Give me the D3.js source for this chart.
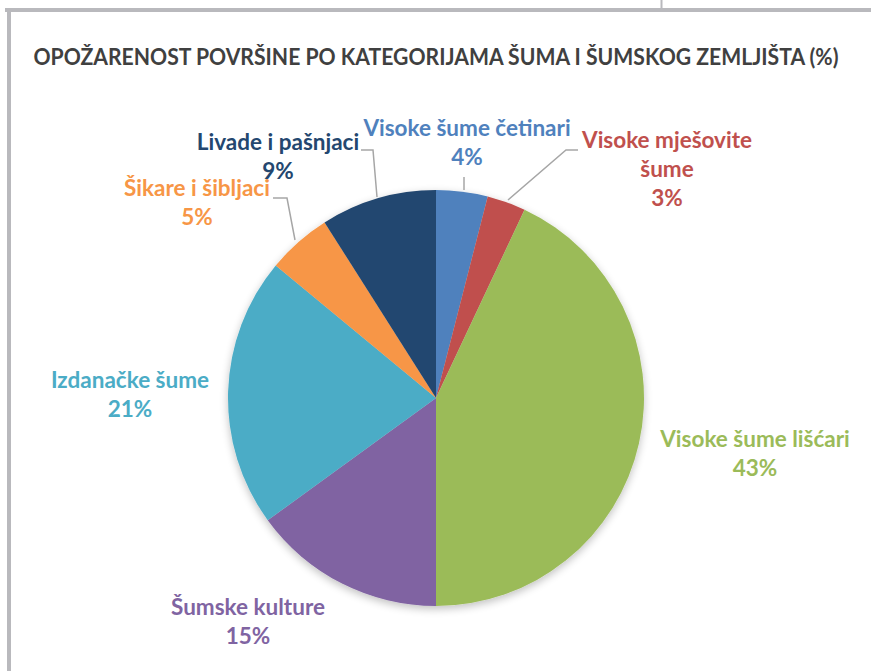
<!DOCTYPE html>
<html><head><meta charset="utf-8">
<script src="https://cdn.jsdelivr.net/npm/d3@7"></script>
<style>html,body{margin:0;padding:0;background:#fff;}svg{display:block;}</style>
</head><body>
<svg id="chart" width="871" height="671"></svg>
<script>
const title = "OPOŽARENOST POVRŠINE PO KATEGORIJAMA ŠUMA I ŠUMSKOG ZEMLJIŠTA (%)";
const categories = ["Visoke šume četinari","Visoke mješovite šume","Visoke šume lišćari","Šumske kulture","Izdanačke šume","Šikare i šibljaci","Livade i pašnjaci"];
const values = [4, 3, 43, 15, 21, 5, 9];
const colors = ["#4f81bd","#c0504d","#9bbb59","#8064a2","#4bacc6","#f79646","#24476f"];
const labelLines = [["Visoke šume četinari"],["Visoke mješovite","šume"],["Visoke šume lišćari"],["Šumske kulture"],["Izdanačke šume"],["Šikare i šibljaci"],["Livade i pašnjaci"]];

// layout (positions only)
const cx = 436, cy = 398, R = 208;
const labelPos = [[467,136],[667,148],[755,447],[248,615],[130,388],[197,196],[278,150]];
const lineH = 29;

const svg = d3.select("#chart");
const defs = svg.append("defs");
const f = defs.append("filter").attr("id","sh").attr("x","-20%").attr("y","-20%").attr("width","140%").attr("height","140%");
f.append("feGaussianBlur").attr("in","SourceAlpha").attr("stdDeviation",4);
f.append("feOffset").attr("dx",0).attr("dy",3).attr("result","b");
f.append("feComponentTransfer").append("feFuncA").attr("type","linear").attr("slope",0.25);
const m = f.append("feMerge"); m.append("feMergeNode"); m.append("feMergeNode").attr("in","SourceGraphic");

// frame
svg.append("line").attr("x1",5).attr("x2",871).attr("y1",10).attr("y2",10).attr("stroke","#b9b9bd").attr("stroke-width",4);
svg.append("line").attr("x1",9).attr("x2",9).attr("y1",8).attr("y2",671).attr("stroke","#b9b9bd").attr("stroke-width",4);
svg.append("line").attr("x1",661.5).attr("x2",661.5).attr("y1",0).attr("y2",9).attr("stroke","#b9b9bd").attr("stroke-width",2);

svg.append("text").attr("x",436).attr("y",65).attr("text-anchor","middle")
  .attr("font-family","Lato, 'Open Sans', sans-serif").attr("font-weight","bold").attr("font-size",23.5)
  .attr("fill","#404040").attr("textLength",805).attr("lengthAdjust","spacingAndGlyphs").text(title);

const pie = d3.pie().sort(null).value(d=>d);
const arcs = pie(values);
const arc = d3.arc().innerRadius(0).outerRadius(R);
const g = svg.append("g").attr("transform",`translate(${cx},${cy})`).attr("filter","url(#sh)");
g.selectAll("path").data(arcs).join("path").attr("d",arc).attr("fill",(d,i)=>colors[i]);

// leader lines
const leaders = [
  [[464,177],[464,190]],
  [[508,200],[566,150],[578,150]],
  null, null, null,
  [[273,198],[287,198],[295,240]],
  [[361,150],[373,150],[377,197]]
];
svg.append("g").selectAll("path").data(leaders.filter(d=>d)).join("path")
  .attr("d",d=>d3.line()(d)).attr("fill","none").attr("stroke","#a6a6a6").attr("stroke-width",1.5);

const lg = svg.append("g").attr("font-family","Lato, 'Open Sans', sans-serif").attr("font-weight","bold").attr("font-size",22.5).attr("text-anchor","middle");
categories.forEach((c,i)=>{
  const lines = labelLines[i].concat([values[i]+"%"]);
  lines.forEach((t,j)=>{
    lg.append("text").attr("x",labelPos[i][0]).attr("y",labelPos[i][1]+j*lineH).attr("fill",colors[i]).text(t);
  });
});
</script>
</body></html>
